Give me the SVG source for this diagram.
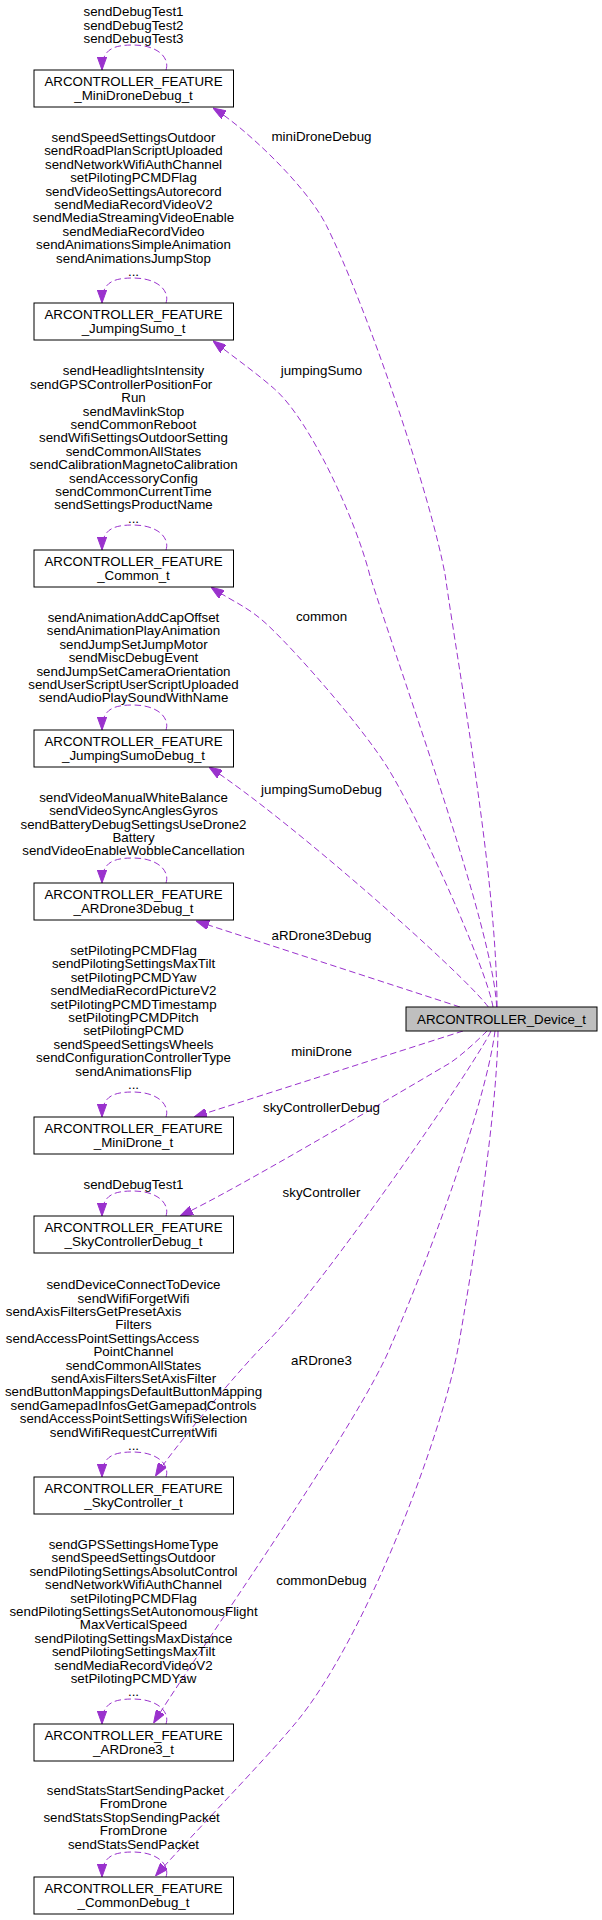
<svg xmlns="http://www.w3.org/2000/svg" width="602" height="1920" viewBox="0 0 602 1920">
<style>
text{font-family:"Liberation Sans",Arial,Helvetica,sans-serif;font-size:13.33px;fill:#000}
.c{text-anchor:middle}
.s{text-anchor:start}
.box{fill:#fff;stroke:#000;stroke-width:1}
.dev{fill:#bfbfbf;stroke:#000;stroke-width:1}
.e{fill:none;stroke:#9a32cd;stroke-width:1;stroke-dasharray:6.5,3.5;marker-end:url(#arr)}
</style>
<defs>
<marker id="arr" viewBox="0 0 13 9.4" refX="13" refY="4.7" markerWidth="13" markerHeight="9.4" markerUnits="userSpaceOnUse" orient="auto">
<path d="M0,0 L13,4.7 L0,9.4 z" fill="#9a32cd" stroke="#9a32cd" stroke-width="1" stroke-dasharray="none"/>
</marker>
</defs>
<rect width="602" height="1920" fill="#fff"/>

<g id="connectors">
<path class="e" d="M497,1007 C497,880 460,680 445.3,576 C431,496 366.3,305.3 326.3,225.3 C306.3,185.3 243.7,126.7 213,108"/>
<path class="e" d="M496.7,1007 C493,930 410,700 370,576 C356,520 310,420 274.5,389 C257.5,374 237.7,359.9 213,341"/>
<path class="e" d="M493,1007 C487,970 420,820 387.8,768 C362.8,728 300.2,656 268.7,626 C247.7,606 232.3,601.8 211,587"/>
<path class="e" d="M488.3,1007 C465,975 290,820 209,767"/>
<path class="e" d="M460,1007 L196,921"/>
<path class="e" d="M463,1031 L194,1117"/>
<path class="e" d="M487,1031 C478,1040 462,1055 450,1063 C380,1104 235,1190 180,1216"/>
<path class="e" d="M491,1031 C475,1065 320,1290 265,1344 C240,1368.5 169.3,1453.6 155.5,1476"/>
<path class="e" d="M495,1031 C485,1110 420,1280 391.6,1344 C362,1420 191.5,1661 153.6,1723"/>
<path class="e" d="M498,1031 C497,1120 470,1280 458.8,1344 C443,1434 365,1640 295.6,1723 C263.6,1761.5 182.6,1845 155.5,1876"/>
<text class="c" x="321.5" y="141">miniDroneDebug</text>
<text class="c" x="321.5" y="375">jumpingSumo</text>
<text class="c" x="321.5" y="621">common</text>
<text class="c" x="321.5" y="793.5">jumpingSumoDebug</text>
<text class="c" x="321.5" y="940">aRDrone3Debug</text>
<text class="c" x="321.5" y="1056">miniDrone</text>
<text class="c" x="321.5" y="1112">skyControllerDebug</text>
<text class="c" x="321.5" y="1196.5">skyController</text>
<text class="c" x="321.5" y="1364.7">aRDrone3</text>
<text class="c" x="321.5" y="1584.8">commonDebug</text>
</g>

<g id="node_MiniDroneDebug">
<path class="e" d="M166,70 C170,58 158,45 133,45 C112,45 102,50 102,70"/>
<text class="c" x="133.5" y="16.2">sendDebugTest1<tspan x="133.5" dy="13.4">sendDebugTest2</tspan><tspan x="133.5" dy="13.4">sendDebugTest3</tspan></text>
<rect class="box" x="34" y="70" width="199.5" height="37"/>
<text class="c" x="133.5" y="86.2">ARCONTROLLER_FEATURE<tspan x="133.5" dy="13.4">_MiniDroneDebug_t</tspan></text>
</g>

<g id="node_JumpingSumo">
<path class="e" d="M166,303 C170,291 158,278 133,278 C112,278 102,283 102,303"/>
<text class="c" x="133.5" y="142">sendSpeedSettingsOutdoor<tspan x="133.5" dy="13.4">sendRoadPlanScriptUploaded</tspan><tspan x="133.5" dy="13.4">sendNetworkWifiAuthChannel</tspan><tspan x="133.5" dy="13.4">setPilotingPCMDFlag</tspan><tspan x="133.5" dy="13.4">sendVideoSettingsAutorecord</tspan><tspan x="133.5" dy="13.4">sendMediaRecordVideoV2</tspan><tspan x="133.5" dy="13.4">sendMediaStreamingVideoEnable</tspan><tspan x="133.5" dy="13.4">sendMediaRecordVideo</tspan><tspan x="133.5" dy="13.4">sendAnimationsSimpleAnimation</tspan><tspan x="133.5" dy="13.4">sendAnimationsJumpStop</tspan><tspan x="133.5" dy="13.4">...</tspan></text>
<rect class="box" x="34" y="303" width="199.5" height="37"/>
<text class="c" x="133.5" y="319.2">ARCONTROLLER_FEATURE<tspan x="133.5" dy="13.4">_JumpingSumo_t</tspan></text>
</g>

<g id="node_Common">
<path class="e" d="M166,550 C170,538 158,525 133,525 C112,525 102,530 102,550"/>
<text class="c" x="133.5" y="375.3">sendHeadlightsIntensity</text>
<text class="s" x="30" y="388.7">sendGPSControllerPositionFor</text>
<text class="c" x="133.5" y="402.1">Run<tspan x="133.5" dy="13.4">sendMavlinkStop</tspan><tspan x="133.5" dy="13.4">sendCommonReboot</tspan><tspan x="133.5" dy="13.4">sendWifiSettingsOutdoorSetting</tspan><tspan x="133.5" dy="13.4">sendCommonAllStates</tspan><tspan x="133.5" dy="13.4">sendCalibrationMagnetoCalibration</tspan><tspan x="133.5" dy="13.4">sendAccessoryConfig</tspan><tspan x="133.5" dy="13.4">sendCommonCurrentTime</tspan><tspan x="133.5" dy="13.4">sendSettingsProductName</tspan><tspan x="133.5" dy="13.4">...</tspan></text>
<rect class="box" x="34" y="550" width="199.5" height="37"/>
<text class="c" x="133.5" y="566.2">ARCONTROLLER_FEATURE<tspan x="133.5" dy="13.4">_Common_t</tspan></text>
</g>

<g id="node_JumpingSumoDebug">
<path class="e" d="M166,730 C170,718 158,705 133,705 C112,705 102,710 102,730"/>
<text class="c" x="133.5" y="622">sendAnimationAddCapOffset<tspan x="133.5" dy="13.4">sendAnimationPlayAnimation</tspan><tspan x="133.5" dy="13.4">sendJumpSetJumpMotor</tspan><tspan x="133.5" dy="13.4">sendMiscDebugEvent</tspan><tspan x="133.5" dy="13.4">sendJumpSetCameraOrientation</tspan><tspan x="133.5" dy="13.4">sendUserScriptUserScriptUploaded</tspan><tspan x="133.5" dy="13.4">sendAudioPlaySoundWithName</tspan></text>
<rect class="box" x="34" y="730" width="199.5" height="37"/>
<text class="c" x="133.5" y="746.2">ARCONTROLLER_FEATURE<tspan x="133.5" dy="13.4">_JumpingSumoDebug_t</tspan></text>
</g>

<g id="node_ARDrone3Debug">
<path class="e" d="M166,883 C170,871 158,858 133,858 C112,858 102,863 102,883"/>
<text class="c" x="133.5" y="801.7">sendVideoManualWhiteBalance<tspan x="133.5" dy="13.4">sendVideoSyncAnglesGyros</tspan><tspan x="133.5" dy="13.4">sendBatteryDebugSettingsUseDrone2</tspan><tspan x="133.5" dy="13.4">Battery</tspan><tspan x="133.5" dy="13.4">sendVideoEnableWobbleCancellation</tspan></text>
<rect class="box" x="34" y="883" width="199.5" height="37"/>
<text class="c" x="133.5" y="899.2">ARCONTROLLER_FEATURE<tspan x="133.5" dy="13.4">_ARDrone3Debug_t</tspan></text>
</g>

<g id="node_Device">
<rect class="dev" x="406" y="1007" width="191" height="24"/>
<text class="c" x="501.5" y="1024">ARCONTROLLER_Device_t</text>
</g>

<g id="node_MiniDrone">
<path class="e" d="M166,1117 C170,1105 158,1092 133,1092 C112,1092 102,1097 102,1117"/>
<text class="c" x="133.5" y="955">setPilotingPCMDFlag<tspan x="133.5" dy="13.4">sendPilotingSettingsMaxTilt</tspan><tspan x="133.5" dy="13.4">setPilotingPCMDYaw</tspan><tspan x="133.5" dy="13.4">sendMediaRecordPictureV2</tspan><tspan x="133.5" dy="13.4">setPilotingPCMDTimestamp</tspan><tspan x="133.5" dy="13.4">setPilotingPCMDPitch</tspan><tspan x="133.5" dy="13.4">setPilotingPCMD</tspan><tspan x="133.5" dy="13.4">sendSpeedSettingsWheels</tspan><tspan x="133.5" dy="13.4">sendConfigurationControllerType</tspan><tspan x="133.5" dy="13.4">sendAnimationsFlip</tspan><tspan x="133.5" dy="13.4">...</tspan></text>
<rect class="box" x="34" y="1117" width="199.5" height="37"/>
<text class="c" x="133.5" y="1133.2">ARCONTROLLER_FEATURE<tspan x="133.5" dy="13.4">_MiniDrone_t</tspan></text>
</g>

<g id="node_SkyControllerDebug">
<path class="e" d="M166,1216 C170,1204 158,1191 133,1191 C112,1191 102,1196 102,1216"/>
<text class="c" x="133.5" y="1189.3">sendDebugTest1</text>
<rect class="box" x="34" y="1216" width="199.5" height="37"/>
<text class="c" x="133.5" y="1232.2">ARCONTROLLER_FEATURE<tspan x="133.5" dy="13.4">_SkyControllerDebug_t</tspan></text>
</g>

<g id="node_SkyController">
<path class="e" d="M166,1477 C170,1465 158,1452 133,1452 C112,1452 102,1457 102,1477"/>
<text class="c" x="133.5" y="1289.2">sendDeviceConnectToDevice<tspan x="133.5" dy="13.4">sendWifiForgetWifi</tspan></text>
<text class="s" x="5.8" y="1316">sendAxisFiltersGetPresetAxis</text>
<text class="c" x="133.5" y="1329.4">Filters</text>
<text class="s" x="5.8" y="1342.8">sendAccessPointSettingsAccess</text>
<text class="c" x="133.5" y="1356.2">PointChannel<tspan x="133.5" dy="13.4">sendCommonAllStates</tspan><tspan x="133.5" dy="13.4">sendAxisFiltersSetAxisFilter</tspan><tspan x="133.5" dy="13.4">sendButtonMappingsDefaultButtonMapping</tspan><tspan x="133.5" dy="13.4">sendGamepadInfosGetGamepadControls</tspan><tspan x="133.5" dy="13.4">sendAccessPointSettingsWifiSelection</tspan><tspan x="133.5" dy="13.4">sendWifiRequestCurrentWifi</tspan><tspan x="133.5" dy="13.4">...</tspan></text>
<rect class="box" x="34" y="1477" width="199.5" height="37"/>
<text class="c" x="133.5" y="1493.2">ARCONTROLLER_FEATURE<tspan x="133.5" dy="13.4">_SkyController_t</tspan></text>
</g>

<g id="node_ARDrone3">
<path class="e" d="M166,1724 C170,1712 158,1699 133,1699 C112,1699 102,1704 102,1724"/>
<text class="c" x="133.5" y="1549">sendGPSSettingsHomeType<tspan x="133.5" dy="13.4">sendSpeedSettingsOutdoor</tspan><tspan x="133.5" dy="13.4">sendPilotingSettingsAbsolutControl</tspan><tspan x="133.5" dy="13.4">sendNetworkWifiAuthChannel</tspan><tspan x="133.5" dy="13.4">setPilotingPCMDFlag</tspan><tspan x="133.5" dy="13.4">sendPilotingSettingsSetAutonomousFlight</tspan><tspan x="133.5" dy="13.4">MaxVerticalSpeed</tspan><tspan x="133.5" dy="13.4">sendPilotingSettingsMaxDistance</tspan><tspan x="133.5" dy="13.4">sendPilotingSettingsMaxTilt</tspan><tspan x="133.5" dy="13.4">sendMediaRecordVideoV2</tspan><tspan x="133.5" dy="13.4">setPilotingPCMDYaw</tspan><tspan x="133.5" dy="13.4">...</tspan></text>
<rect class="box" x="34" y="1724" width="199.5" height="37"/>
<text class="c" x="133.5" y="1740.2">ARCONTROLLER_FEATURE<tspan x="133.5" dy="13.4">_ARDrone3_t</tspan></text>
</g>

<g id="node_CommonDebug">
<path class="e" d="M166,1877 C170,1865 158,1852 133,1852 C112,1852 102,1857 102,1877"/>
<text class="s" x="46.8" y="1795">sendStatsStartSendingPacket</text>
<text class="c" x="133.5" y="1808.4">FromDrone</text>
<text class="s" x="43.4" y="1821.8">sendStatsStopSendingPacket</text>
<text class="c" x="133.5" y="1835.2">FromDrone<tspan x="133.5" dy="13.4">sendStatsSendPacket</tspan></text>
<rect class="box" x="34" y="1877" width="199.5" height="37"/>
<text class="c" x="133.5" y="1893.2">ARCONTROLLER_FEATURE<tspan x="133.5" dy="13.4">_CommonDebug_t</tspan></text>
</g>
</svg>
